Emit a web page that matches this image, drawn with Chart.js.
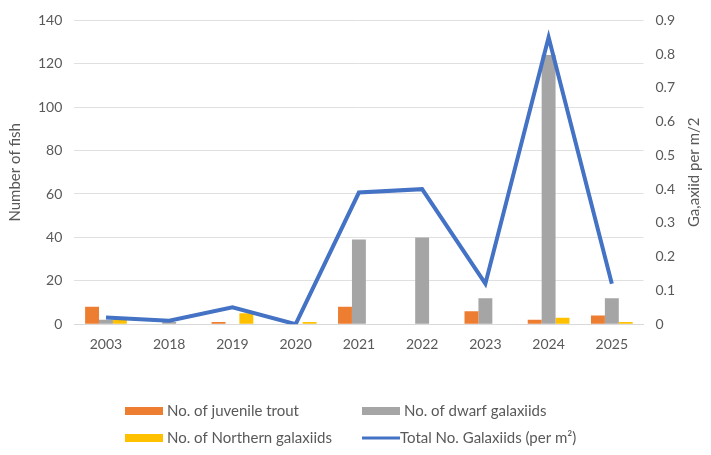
<!DOCTYPE html>
<html>
<head>
<meta charset="utf-8">
<script src="https://cdn.jsdelivr.net/npm/chart.js@4.4.1/dist/chart.umd.min.js"></script>
<style>
  html, body { margin: 0; padding: 0; background: #ffffff; }
  #wrap { width: 711px; height: 455px; position: relative; }
</style>
</head>
<body>
<div id="wrap"><canvas id="c" width="711" height="455"></canvas></div>
<script>
// Survey years and fish counts per site visit
const years = ['2003', '2018', '2019', '2020', '2021', '2022', '2023', '2024', '2025'];
const juvenileTrout = [8, 0, 1, 0, 8, 0, 6, 2, 4];
const dwarfGalaxiids = [2, 1, 0, 0, 39, 40, 12, 124, 12];
const northernGalaxiids = [2, 0, 5, 1, 0, 0, 0, 3, 1];
// Galaxiid density (per square metre), right axis
const totalGalaxiidsPerM2 = [0.02, 0.01, 0.05, 0.0, 0.39, 0.40, 0.12, 0.85, 0.12];

const FONT = 'Lato, "Open Sans", sans-serif';
const TEXT = '#595959';

// Two-by-two legend under the plot, plus the upward-reading right-axis title
const extras = {
  id: 'extras',
  afterDraw(chart) {
    const ctx = chart.ctx;
    const ds = chart.data.datasets;
    const cells = [
      { i: 0, x: 125, y: 411 },
      { i: 1, x: 362, y: 411 },
      { i: 2, x: 125, y: 438 },
      { i: 3, x: 362, y: 438 }
    ];
    ctx.save();
    ctx.font = '15px ' + FONT;
    ctx.textBaseline = 'middle';
    ctx.textAlign = 'left';
    cells.forEach(c => {
      const d = ds[c.i];
      if (d.type === 'line') {
        ctx.strokeStyle = d.borderColor;
        ctx.lineWidth = 3;
        ctx.beginPath();
        ctx.moveTo(c.x, c.y);
        ctx.lineTo(c.x + 38, c.y);
        ctx.stroke();
        ctx.fillStyle = TEXT;
        ctx.fillText(d.label, c.x + 38, c.y);
      } else {
        ctx.fillStyle = d.backgroundColor;
        ctx.fillRect(c.x, c.y - 4, 38, 8);
        ctx.fillStyle = TEXT;
        ctx.fillText(d.label, c.x + 42, c.y);
      }
    });
    // right axis title
    const ya = chart.scales.y1;
    ctx.translate(694, (ya.top + ya.bottom) / 2);
    ctx.rotate(-Math.PI / 2);
    ctx.textAlign = 'center';
    ctx.font = '15px ' + FONT;
    ctx.fillStyle = TEXT;
    ctx.fillText('Ga,axiid per m/2', 0, 0);
    ctx.restore();
  }
};

new Chart(document.getElementById('c'), {
  data: {
    labels: years,
    datasets: [
      { type: 'bar', label: 'No. of juvenile trout', data: juvenileTrout,
        backgroundColor: '#ED7D31', yAxisID: 'y', order: 2 },
      { type: 'bar', label: 'No. of dwarf galaxiids', data: dwarfGalaxiids,
        backgroundColor: '#A5A5A5', yAxisID: 'y', order: 2 },
      { type: 'bar', label: 'No. of Northern galaxiids', data: northernGalaxiids,
        backgroundColor: '#FFC000', yAxisID: 'y', order: 2 },
      { type: 'line', label: 'Total No. Galaxiids (per m\u00B2)', data: totalGalaxiidsPerM2,
        borderColor: '#4472C4', backgroundColor: '#4472C4', borderWidth: 4,
        pointRadius: 0, tension: 0, yAxisID: 'y1', order: 1 }
    ]
  },
  options: {
    responsive: false,
    animation: false,
    layout: { padding: { left: 4, right: 24, top: 16, bottom: 90 } },
    datasets: { bar: { categoryPercentage: 0.66, barPercentage: 1.0 } },
    plugins: { legend: { display: false }, tooltip: { enabled: false } },
    scales: {
      x: {
        grid: { display: false, drawTicks: false },
        border: { color: '#d9d9d9' },
        ticks: { color: TEXT, font: { family: FONT, size: 14 }, padding: 12 }
      },
      y: {
        position: 'left', min: 0, max: 140,
        ticks: { stepSize: 20, color: TEXT, font: { family: FONT, size: 14 }, padding: 12 },
        grid: { color: '#e0e0e0', drawTicks: false },
        border: { display: false },
        title: { display: true, text: 'Number of fish', color: TEXT,
                 font: { family: FONT, size: 15 }, padding: { top: 2, bottom: 2 } }
      },
      y1: {
        position: 'right', min: 0, max: 0.9,
        ticks: { stepSize: 0.1, color: TEXT, font: { family: FONT, size: 14 }, padding: 12,
                 callback: v => Number(v.toFixed(1)).toString() },
        grid: { display: false, drawTicks: false },
        border: { display: false }
      }
    }
  },
  plugins: [extras]
});
</script>
</body>
</html>
